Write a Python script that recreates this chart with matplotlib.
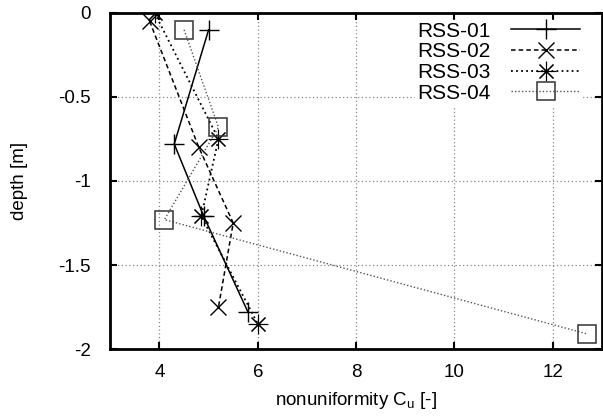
import matplotlib
matplotlib.use('Agg')
import matplotlib.pyplot as plt

plt.rcParams['font.family'] = ['Liberation Sans', 'DejaVu Sans']

# nonuniformity Cu and depth for each probe
cu_01 = [5.0, 4.3, 4.9, 5.8]
depth_01 = [-0.1, -0.78, -1.21, -1.78]

cu_02 = [3.8, 4.8, 5.5, 5.2]
depth_02 = [-0.05, -0.8, -1.25, -1.75]

cu_03 = [3.9, 5.2, 4.85, 6.0]
depth_03 = [0.0, -0.75, -1.21, -1.85]

cu_04 = [4.5, 5.2, 4.1, 12.7]
depth_04 = [-0.1, -0.68, -1.23, -1.91]

labels = ['RSS-01', 'RSS-02', 'RSS-03', 'RSS-04']

fig = plt.figure(figsize=(6.03, 4.17), dpi=100)
ax = fig.add_axes([0.183, 0.163, 0.815, 0.806])

ax.plot(cu_01, depth_01, color='black', ls='-', lw=1.1, marker='+', ms=14, mew=1.0, label=labels[0])
ax.plot(cu_02, depth_02, color='black', ls=(0, (3, 2)), lw=1.1, marker='x', ms=12, mew=1.0, label=labels[1])
ax.plot(cu_03, depth_03, color='black', ls=(0, (1, 1.8)), lw=1.3, marker=(8, 2, 0), ms=14, mew=0.8, label=labels[2])
ax.plot(cu_04, depth_04, color='#555555', ls=(0, (1, 1.5)), lw=1.0, marker='s', ms=13, mew=1.1,
        mfc='none', mec='#333333', label=labels[3])

ax.set_xlim(3, 13)
ax.set_ylim(-2, 0)
ax.set_xticks([4, 6, 8, 10, 12])
ax.set_yticks([0, -0.5, -1, -1.5, -2])
ax.set_yticklabels(['0', '-0.5', '-1', '-1.5', '-2'])

ax.grid(True, color='#888888', ls=(0, (1, 2)), lw=0.9)
ax.tick_params(direction='in', length=5, width=1.5, top=True, right=True, labelsize=13.5)
ax.tick_params(axis='x', pad=11)
ax.tick_params(axis='y', pad=14)
for s in ax.spines.values():
    s.set_linewidth(2)

ax.set_xlabel('nonuniformity C$_\\mathregular{u}$ [-]', fontsize=13.5, labelpad=6)
ax.set_ylabel('depth [m]', fontsize=13.5, labelpad=22)

leg = ax.legend(loc='upper right', markerfirst=False, frameon=True, framealpha=1, edgecolor='white',
                fancybox=False, fontsize=15, handlelength=3.3, labelspacing=0.08,
                borderaxespad=0.0, borderpad=0.1, handletextpad=1.0,
                bbox_to_anchor=(0.96, 0.98))

fig.savefig('out.png', dpi=100)
